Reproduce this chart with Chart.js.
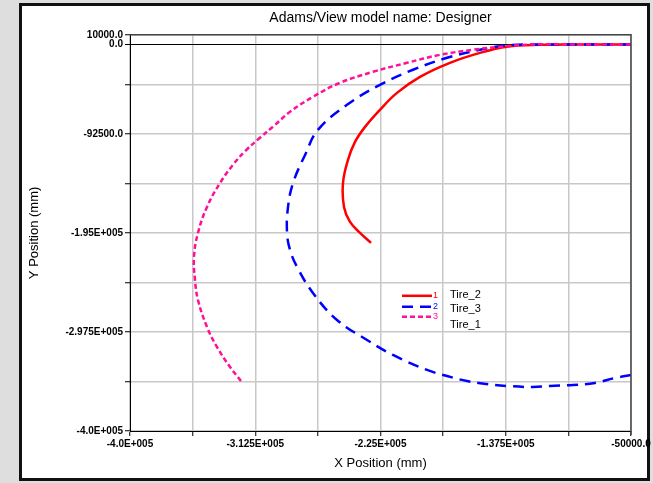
<!DOCTYPE html>
<html>
<head>
<meta charset="utf-8">
<script src="https://cdn.jsdelivr.net/npm/chart.js@4"></script>
<style>
  html, body { margin: 0; padding: 0; width: 653px; height: 483px; overflow: hidden; background: #dedede; }
  #frame { position: absolute; left: 19px; top: 3px; width: 625px; height: 472px; background: #fff; border: 3px solid #111; }
  #wrap { position: absolute; left: 0; top: 0; width: 653px; height: 483px; }
</style>
</head>
<body>
<div id="frame"></div>
<div id="wrap"><canvas id="c" width="653" height="483"></canvas></div>
<script>
// Tire trajectories (mm), listed in path order
const tire2X = [-50000, -85600, -113600, -136600, -155500, -176500, -197400, -213500, -225400, -235800, -242800, -247700, -251200, -250500, -246300, -239300, -231600];
const tire2Y = [0, 0, -400, -2400, -8700, -19000, -33500, -50100, -67700, -85300, -100800, -119400, -143400, -168100, -183600, -195000, -205400];

const tire3X = [-50000, -85600, -113600, -136600, -155500, -178500, -202300, -225400, -248400, -268700, -277700, -286100, -289600, -290300, -288200, -283300, -272200, -255400, -234400, -216300, -192500, -178500, -164600, -150600, -136600, -118500, -106600, -90500, -75200, -61200, -50000];
const tire3Y = [0, 0, -100, -900, -5500, -13800, -26200, -41800, -62500, -88400, -114300, -143400, -168100, -195000, -212600, -230200, -257100, -285100, -305800, -321300, -336800, -343100, -348300, -351400, -353400, -354500, -353400, -352400, -350300, -345100, -342100];

const tire1X = [-50000, -85600, -120600, -141500, -160400, -183400, -206500, -230200, -253300, -272200, -288200, -299400, -310000, -319000, -327500, -337100, -346200, -352500, -355300, -354600, -352500, -346200, -339200, -330100, -321800];
const tire1Y = [0, 0, -100, -2400, -5500, -10700, -19000, -28300, -39700, -54200, -69700, -84200, -97500, -109500, -123500, -143400, -168100, -195000, -219900, -243700, -264400, -292400, -313100, -333800, -349400];

// Axis tick values that carry a label, with their printed text
const xTickValues = [-400000, -312500, -225000, -137500, -50000];
const xTickLabels = ['-4.0E+005', '-3.125E+005', '-2.25E+005', '-1.375E+005', '-50000.0'];
const yTickValues = [10000, 0, -92500, -195000, -297500, -400000];
const yTickLabels = ['10000.0', '0.0', '-92500.0', '-1.95E+005', '-2.975E+005', '-4.0E+005'];

const chartTitle = 'Adams/View model name: Designer';
const xTitle = 'X Position (mm)';
const yTitle = 'Y Position (mm)';

const FONT = "'Liberation Sans', Arial, sans-serif";
Chart.defaults.font.family = FONT;
Chart.defaults.color = '#000';

function toPoints(xs, ys) {
  return xs.map((x, i) => ({ x: x, y: ys[i] }));
}
function labelFor(values, labels, v) {
  for (let i = 0; i < values.length; i++) {
    if (Math.abs(values[i] - v) < 1) return labels[i];
  }
  return '';
}

const datasets = [
  { label: 'Tire_2', num: '1', data: toPoints(tire2X, tire2Y), borderColor: '#ff0000', borderWidth: 2.5, borderDash: [], order: 3 },
  { label: 'Tire_3', num: '2', data: toPoints(tire3X, tire3Y), borderColor: '#0000ff', borderWidth: 2.5, borderDash: [11, 7], order: 2 },
  { label: 'Tire_1', num: '3', data: toPoints(tire1X, tire1Y), borderColor: '#ff1096', borderWidth: 2.5, borderDash: [5, 3], order: 1 }
].map(d => Object.assign(d, { showLine: true, pointRadius: 0, tension: 0.4, fill: false }));

// Dark top/right edge of the plot box
const plotBox = {
  id: 'plotBox',
  afterDraw(chart) {
    const a = chart.chartArea, c = chart.ctx;
    c.save();
    c.strokeStyle = '#444';
    c.lineWidth = 1.5;
    c.beginPath();
    c.moveTo(a.left, a.top);
    c.lineTo(a.right, a.top);
    c.lineTo(a.right, a.bottom + 4);
    c.stroke();
    c.restore();
  }
};

// Legend drawn inside the plot: sample line, curve number, name
const innerLegend = {
  id: 'innerLegend',
  afterDraw(chart) {
    const a = chart.chartArea, c = chart.ctx;
    const lineY = [261, 272, 282];
    const textY = [260, 274, 290];
    c.save();
    chart.data.datasets.forEach((d, i) => {
      const y = a.top + lineY[i];
      c.strokeStyle = d.borderColor;
      c.lineWidth = 2.5;
      c.setLineDash(d.borderDash);
      c.beginPath();
      c.moveTo(a.left + 272, y);
      c.lineTo(a.left + 302, y);
      c.stroke();
      c.setLineDash([]);
      c.fillStyle = d.borderColor;
      c.font = '9px ' + FONT;
      c.textBaseline = 'middle';
      c.textAlign = 'left';
      c.fillText(d.num, a.left + 303, y);
      c.fillStyle = '#000';
      c.font = '11px ' + FONT;
      c.fillText(d.label, a.left + 320, a.top + textY[i]);
    });
    c.restore();
  }
};

new Chart(document.getElementById('c'), {
  type: 'scatter',
  data: { datasets: datasets },
  options: {
    responsive: false,
    animation: false,
    events: [],
    layout: { padding: { left: 20, right: 22, top: 0, bottom: 0 } },
    plugins: {
      legend: { display: false },
      tooltip: { enabled: false },
      title: {
        display: true, text: chartTitle, fullSize: false, color: '#000',
        font: { family: FONT, size: 14, weight: 'normal' },
        padding: { top: 10, bottom: 8 }
      }
    },
    scales: {
      x: {
        type: 'linear', position: 'bottom', min: -400000, max: -50000,
        ticks: {
          stepSize: 43750, autoSkip: false, maxRotation: 0, padding: 2, color: '#000',
          font: { size: 10, weight: 'bold' },
          callback: v => labelFor(xTickValues, xTickLabels, v)
        },
        grid: { color: '#c8c8c8', lineWidth: 1.5, tickColor: '#000', tickLength: 5, tickWidth: 1 },
        border: { color: '#000', width: 1 },
        title: { display: true, text: xTitle, color: '#000', font: { size: 13 }, padding: { top: 0, bottom: 12 } },
        afterFit: s => { s.height = 52; }
      },
      y: {
        type: 'linear', position: 'left', min: -400000, max: 10000,
        afterBuildTicks: s => {
          const t = s.ticks.slice();
          if (!t.some(k => k.value === 0)) t.push({ value: 0 });
          t.sort((p, q) => p.value - q.value);
          s.ticks = t;
        },
        ticks: {
          stepSize: 51250, autoSkip: false, padding: 2, color: '#000',
          font: { size: 10, weight: 'bold' },
          callback: v => labelFor(yTickValues, yTickLabels, v)
        },
        grid: {
          color: ctx => (ctx.tick && ctx.tick.value === 0) ? '#000' : '#c8c8c8',
          lineWidth: ctx => (ctx.tick && ctx.tick.value === 0) ? 1 : 1.5,
          tickColor: '#000', tickLength: 5, tickWidth: 1
        },
        border: { color: '#000', width: 1 },
        title: { display: true, text: yTitle, color: '#000', font: { size: 13 }, padding: { top: 7, bottom: 0 } },
        afterFit: s => { s.width = 110; }
      }
    }
  },
  plugins: [plotBox, innerLegend]
});
</script>
</body>
</html>
